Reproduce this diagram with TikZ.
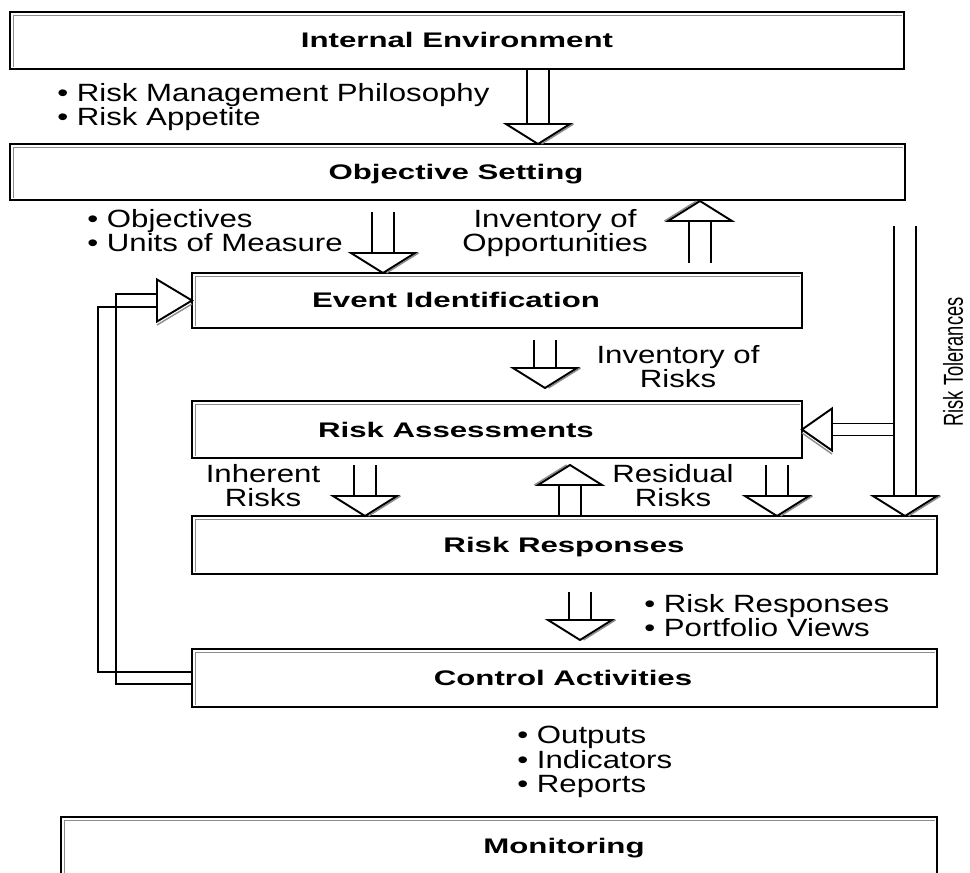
\documentclass[tikz,border=0pt]{standalone}
\usepackage{fontspec}
\usepackage{graphicx}
\usetikzlibrary{calc}
\newfontfamily\lblfont{Liberation Sans}[FakeStretch=1.48]
\newfontfamily\txtfont{Liberation Sans}[FakeStretch=1.25]
\newfontfamily\rotfont{Liberation Sans}
\def\ahw{0.22cm}\def\ahl{0.4cm}\def\ahh{0.64cm}\def\ags{0.07cm}
\def\bhw{0.12cm}\def\bhl{0.6cm}\def\bhh{0.42cm}
\tikzset{
  boxline/.style={draw=black, line width=1.2pt, fill=white, inner sep=0pt, outer sep=0pt, anchor=north west},
  boxshade/.style={draw=black!45, line width=0.6pt},
  stemline/.style={draw=black, line width=1.1pt},
  headstyle/.style={draw=black, fill=white, line width=1.1pt, line join=miter},
  headshade/.style={draw=black!45, line width=0.8pt},
  lbl/.style={font=\lblfont\fontsize{12}{14}\selectfont\bfseries, inner sep=0pt, anchor=base},
  txt/.style={font=\txtfont\fontsize{14.2}{13.9}\selectfont, inner sep=0pt},
}
\newcommand\mkbox[5]{%
  \node[boxline, minimum width={(#4-#2)*0.02cm}, minimum height={(#5-#3)*0.02cm}] (#1) at (#2,#3) {};
  \draw[boxshade] ([shift={(3.5,-2)}]#1.south west) -- ([shift={(3.5,3.5)}]#1.north west) -- ([shift={(-2,3.5)}]#1.north east);
}
\newcommand\DArrow[2]{%
  \draw[stemline] let \p1=#1, \p2=#2 in (\x2-\ahw,\y1) -- (\x2-\ahw,\y2+\ahl) (\x2+\ahw,\y1) -- (\x2+\ahw,\y2+\ahl);
  \draw[headshade] let \p2=#2 in (\x2+\ahh+\ags,\y2+\ahl) -- (\x2+\ags,\y2);
  \filldraw[headstyle] let \p2=#2 in (\x2-\ahh,\y2+\ahl) -- (\x2+\ahh,\y2+\ahl) -- (\x2,\y2) -- cycle;
}
\newcommand\UArrow[2]{%
  \draw[stemline] let \p1=#1, \p2=#2 in (\x2-\ahw,\y1) -- (\x2-\ahw,\y2-\ahl) (\x2+\ahw,\y1) -- (\x2+\ahw,\y2-\ahl);
  \draw[headshade] let \p2=#2 in (\x2-\ahh-\ags,\y2-\ahl) -- (\x2-\ags,\y2);
  \filldraw[headstyle] let \p2=#2 in (\x2-\ahh,\y2-\ahl) -- (\x2+\ahh,\y2-\ahl) -- (\x2,\y2) -- cycle;
}
\newcommand\LArrow[2]{%
  \draw[stemline] let \p1=#1, \p2=#2 in (\x1,\y2+\bhw) -- (\x2+\bhl,\y2+\bhw) (\x1,\y2-\bhw) -- (\x2+\bhl,\y2-\bhw);
  \draw[headshade] let \p2=#2 in (\x2+\bhl,\y2-\bhh-\ags) -- (\x2,\y2-\ags);
  \filldraw[headstyle] let \p2=#2 in (\x2+\bhl,\y2+\bhh) -- (\x2+\bhl,\y2-\bhh) -- (\x2,\y2) -- cycle;
}
\begin{document}
\begin{tikzpicture}[x=0.02cm, y=-0.02cm]
\useasboundingbox (0,0) rectangle (970,872);
\clip (0,0) rectangle (970,872);
\fill[white] (0,0) rectangle (970,872);

% boxes
\mkbox{ie}{10}{12}{904}{69}
\mkbox{os}{10}{144}{905}{200}
\mkbox{ei}{192}{273}{802}{328}
\mkbox{ra}{192}{401}{802}{458}
\mkbox{rr}{192}{516}{937}{574}
\mkbox{ca}{192}{649}{937}{707}
\mkbox{mo}{61}{817}{937}{900}

% box labels
\node[lbl] (lie) at (457,47) {Internal Environment};
\node[lbl] (los) at (456,179) {Objective Setting};
\node[lbl] (lei) at (456,307) {Event Identification};
\node[lbl] (lra) at (456,437) {Risk Assessments};
\node[lbl] (lrr) at (564,552) {Risk Responses};
\node[lbl] (lca) at (563,685) {Control Activities};
\node[lbl] (lmo) at (564,853) {Monitoring};

% x positions of arrows
\coordinate (x1) at (538,0);
\coordinate (x2) at (383,0);
\coordinate (x3) at (700,0);
\coordinate (x4) at (545,0);
\coordinate (x5) at (365,0);
\coordinate (x6) at (570,0);
\coordinate (x7) at (777,0);
\coordinate (x9) at (580,0);
\coordinate (rtx) at (905,0);
\coordinate (rtl) at (894,0);

% arrows
\DArrow{(x1 |- ie.south)}{(x1 |- os.north)}
\DArrow{($(x2 |- os.south)+(0,12)$)}{(x2 |- ei.north)}
\UArrow{($(x3 |- ei.north)+(0,-10)$)}{($(x3 |- os.south)+(0,1)$)}
\DArrow{($(x4 |- ei.south)+(0,12)$)}{($(x4 |- ra.north)+(0,-13)$)}
\DArrow{($(x5 |- ra.south)+(0,7)$)}{(x5 |- rr.north)}
\UArrow{(x6 |- rr.north)}{($(x6 |- ra.south)+(0,7)$)}
\DArrow{($(x7 |- ra.south)+(0,7)$)}{(x7 |- rr.north)}
\DArrow{($(rtx |- os.south)+(0,26)$)}{(rtx |- rr.north)}
\LArrow{(rtl |- ra.east)}{(ra.east)}
\DArrow{($(x9 |- rr.south)+(0,18)$)}{($(x9 |- ca.north)+(0,-9)$)}

% feedback loop from Control Activities to Event Identification
\coordinate (fa) at (98,0);
\coordinate (fb) at (116,0);
\coordinate (fh) at (157,0);
\draw[stemline] ($(ca.west)+(0,-6)$) -| ($(fa |- ei.west)+(0,6.5)$) -- ($(fh |- ei.west)+(0,6.5)$);
\draw[stemline] ($(ca.west)+(0,6)$) -| ($(fb |- ei.west)+(0,-6.5)$) -- ($(fh |- ei.west)+(0,-6.5)$);
\draw[headshade] ($(fh |- ei.west)+(0,24.5)$) -- ($(ei.west)+(0,3.5)$);
\filldraw[headstyle] ($(fh |- ei.west)+(0,-21)$) -- ($(fh |- ei.west)+(0,21)$) -- (ei.west) -- cycle;

% texts
\node[txt, anchor=north west, align=left] (t1) at (57,83) {• Risk Management Philosophy\\• Risk Appetite};
\node[txt, anchor=north west, align=left] (t2) at (87,209) {• Objectives\\• Units of Measure};
\node[txt, anchor=north, align=center] (t3) at (555,209) {Inventory of\\Opportunities};
\node[txt, anchor=north, align=center] (t4) at (678,345) {Inventory of\\Risks};
\node[txt, anchor=north, align=center] (t5) at (263,464) {Inherent\\Risks};
\node[txt, anchor=north, align=center] (t6) at (673,464) {Residual\\Risks};
\node[txt, anchor=north west, align=left] (t7) at (644,594) {• Risk Responses\\• Portfolio Views};
\node[txt, anchor=north west, align=left] (t8) at (517,726) {• Outputs\\• Indicators\\• Reports};
\node[rotate=90, inner sep=0pt, font=\rotfont\fontsize{10.4}{12}\selectfont] (t9) at (953,362) {\scalebox{1}[1.5]{Risk Tolerances}};
\end{tikzpicture}
\end{document}
